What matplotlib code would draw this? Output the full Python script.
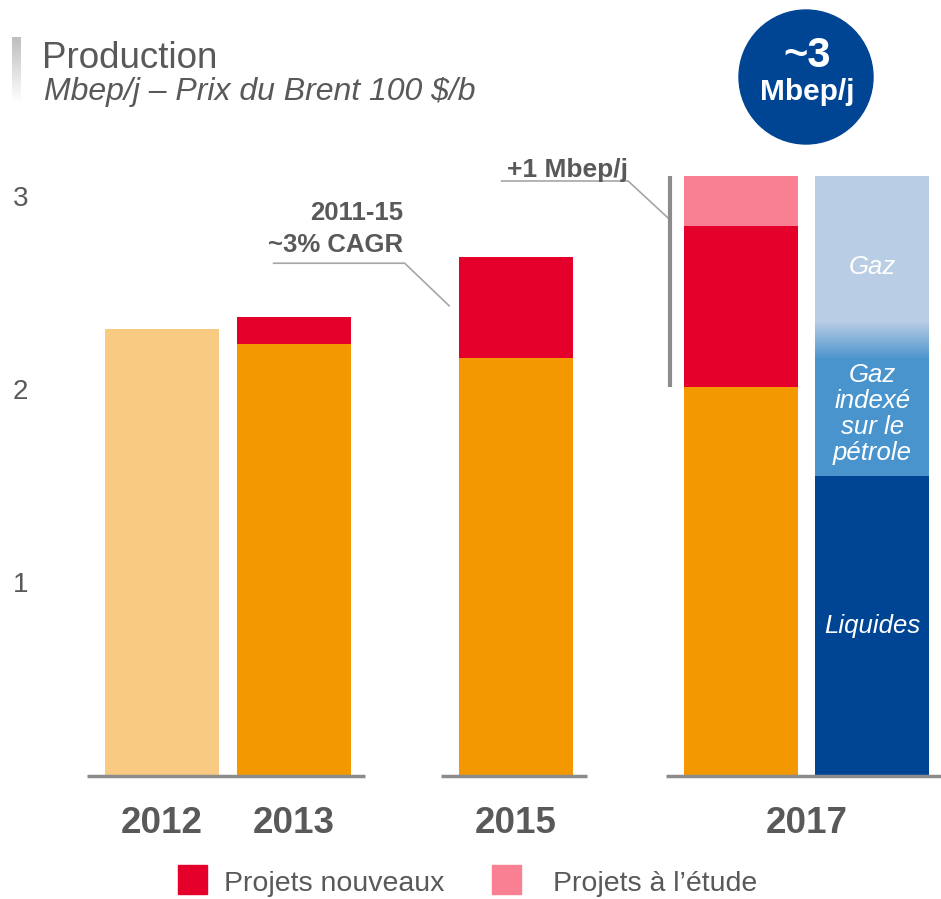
import matplotlib
matplotlib.use('Agg')
import matplotlib.pyplot as plt
import numpy as np
from matplotlib.patches import Rectangle, Circle
from matplotlib.colors import LinearSegmentedColormap

plt.rcParams['font.family'] = ['Liberation Sans', 'DejaVu Sans']

# données (Mbep/j)
years = ['2012', '2013', '2015', '2017']
base = [2.31, 2.23, 2.16, 2.01]
nouveaux = [0.0, 0.14, 0.52, 0.83]
etude = [0.0, 0.0, 0.0, 0.26]
mix_labels = ['Liquides', 'Gaz\nindexé\nsur le\npétrole', 'Gaz']
mix_values = [1.55, 0.71, 0.84]

# mise en page
xpos = [0, 1.158, 3.105, 5.079]
mix_x = 6.232
grey = '#595959'
line_grey = '#8C8C8C'
base_colors = ['#F9CB82', '#F39800', '#F39800', '#F39800']
mix_colors = ['#004494', '#4A94CD', '#B9CDE5']

fig = plt.figure(figsize=(9.41, 8.99), dpi=100)
ax = fig.add_axes([85 / 941, (899 - 776) / 899, (941 - 85) / 941, (776 - 100) / 899])

ax.bar(xpos, base, width=1.0, color=base_colors, zorder=2)
ax.bar(xpos, nouveaux, bottom=base, width=1.0, color='#E4002B', zorder=2)
bottom2 = [b + n for b, n in zip(base, nouveaux)]
ax.bar(xpos, etude, bottom=bottom2, width=1.0, color='#F98093', zorder=2)

# barre répartition 2017
cum = 0
for v, c in zip(mix_values, mix_colors):
    ax.bar(mix_x, v, bottom=cum, width=1.0, color=c, zorder=2)
    cum += v
# dégradé entre gaz indexé et gaz
bound = mix_values[0] + mix_values[1]
cmap = LinearSegmentedColormap.from_list('g', [mix_colors[1], mix_colors[2]])
ax.imshow(np.linspace(0, 1, 100).reshape(-1, 1), extent=[mix_x - 0.5, mix_x + 0.5, bound - 0.11, bound + 0.09],
          origin='lower', aspect='auto', cmap=cmap, zorder=3)

label_y = [mix_values[0] / 2, mix_values[0] + mix_values[1] / 2 - 0.035, bound + mix_values[2] / 2 - 0.05]
for lab, yy in zip(mix_labels, label_y):
    ax.text(mix_x, yy, lab, ha='center', va='center', color='white', style='italic',
            fontsize=18.5, linespacing=1.1, zorder=4)

# lignes de base par groupe
for g in [(0, 1), (2, 2), (3, None)]:
    x0 = xpos[g[0]] - 0.66
    x1 = (xpos[g[1]] if g[1] is not None else mix_x) + 0.62
    ax.hlines(0, x0, x1, color=line_grey, lw=2.5, clip_on=False, zorder=3)

ax.set_xlim(-0.675, 6.835)
ax.set_ylim(0, 676 / 193.5)
for s in ax.spines.values():
    s.set_visible(False)
ax.set_xticks([])
ax.set_yticks([1, 2, 3])
ax.set_yticklabels(['1', '2', '3'])
ax.tick_params(axis='y', length=0, pad=41, labelsize=20, labelcolor=grey)

# années
year_x = xpos[:3] + [(xpos[3] + mix_x) / 2]
for x, yr in zip(year_x, years):
    ax.text(x, -0.243, yr, ha='center', va='center', fontsize=26.5, fontweight='bold', color=grey, clip_on=False)

# accolade +1 Mbep/j
total17 = base[3] + nouveaux[3] + etude[3]
ax.vlines(xpos[3] - 0.62, base[3], total17, color=line_grey, lw=3, zorder=3)
ax.plot([2.98, 4.09, 4.44], [3.075, 3.075, 2.884], color='#A6A6A6', lw=1.2, clip_on=False)
ax.text(4.09, 3.095, '+1 Mbep/j', ha='right', va='baseline', fontsize=19, fontweight='bold', color=grey)

# CAGR
ax.plot([0.98, 2.13, 2.52], [2.65, 2.65, 2.43], color='#A6A6A6', lw=1.2)
ax.text(2.12, 2.91, '2011-15', ha='right', va='center', fontsize=18.5, fontweight='bold', color=grey)
ax.text(2.12, 2.744, '~3% CAGR', ha='right', va='center', fontsize=18.5, fontweight='bold', color=grey)

# titre
fig.text(42 / 941, 1 - 68 / 899, 'Production', va='baseline', fontsize=26.5, color=grey)
fig.text(44 / 941, 1 - 100 / 899, 'Mbep/j – Prix du Brent 100 $/b', va='baseline', fontsize=23,
         style='italic', color=grey)
bar_ax = fig.add_axes([12 / 941, (899 - 102) / 899, 9 / 941, 65 / 899])
bar_cmap = LinearSegmentedColormap.from_list('t', ['#FFFFFF', '#BDBDBD'])
bar_ax.imshow(np.linspace(0, 1, 100).reshape(-1, 1), origin='lower', aspect='auto', cmap=bar_cmap)
bar_ax.axis('off')

# pastille
fig.patches.append(Circle((8.06, 8.22), 0.67, transform=fig.dpi_scale_trans, color='#004494'))
fig.text(807 / 941, 1 - 56 / 899, '~3', ha='center', va='center', fontsize=30, fontweight='bold', color='white')
fig.text(807 / 941, 1 - 100 / 899, 'Mbep/j', ha='center', va='baseline', fontsize=21.5, fontweight='bold',
         color='white')

# légende
fig.patches.append(Rectangle((178 / 941, 5 / 899), 29 / 941, 29 / 899, transform=fig.transFigure, color='#E4002B'))
fig.text(224 / 941, 1 - 891 / 899, 'Projets nouveaux', va='baseline', fontsize=20.5, color=grey)
fig.patches.append(Rectangle((492 / 941, 5 / 899), 29 / 941, 29 / 899, transform=fig.transFigure, color='#F98093'))
fig.text(553 / 941, 1 - 891 / 899, 'Projets à l’étude', va='baseline', fontsize=20.5, color=grey)

fig.savefig('out.png', dpi=100)
